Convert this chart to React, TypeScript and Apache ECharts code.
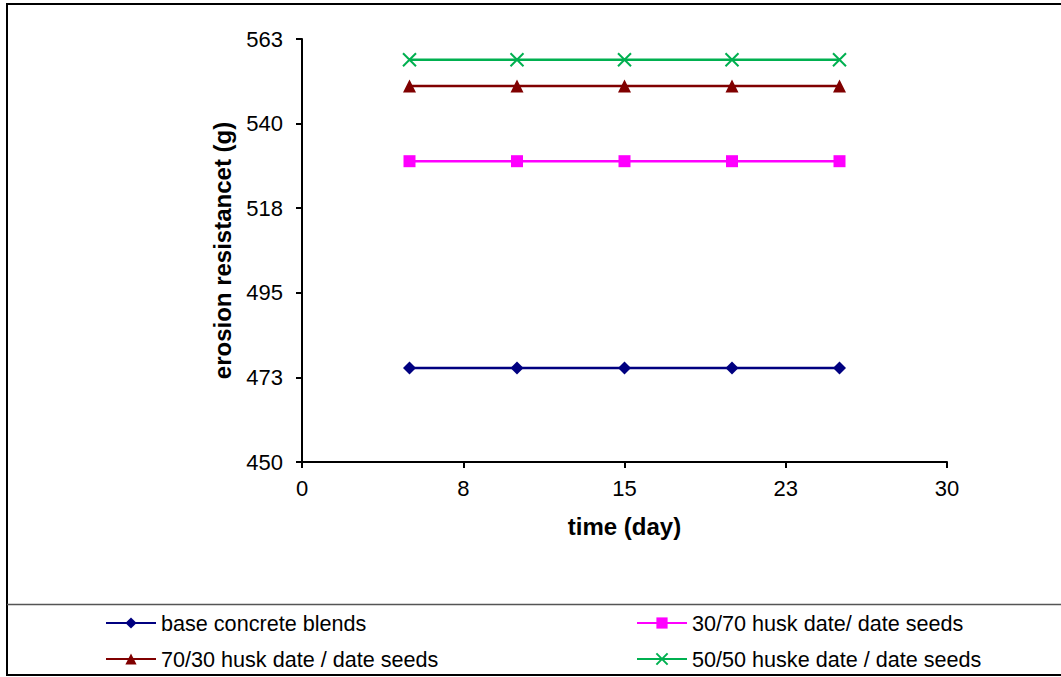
import React, { useEffect, useRef } from "react";
import * as echarts from "echarts";

const days = [5, 10, 15, 20, 25];
const baseConcrete = [475, 475, 475, 475, 475];
const husk30_70 = [530, 530, 530, 530, 530];
const husk70_30 = [550, 550, 550, 550, 550];
const husk50_50 = [557, 557, 557, 557, 557];

const seriesNames = [
  "base concrete blends",
  "30/70 husk date/ date seeds",
  "70/30 husk date / date seeds",
  "50/50 huske date / date seeds",
];

const FONT = "Liberation Sans, Arial, sans-serif";
const crossPath = "path://M0,0L10,10M10,0L0,10";

export default function App() {
  const ref = useRef<HTMLDivElement>(null);
  useEffect(() => {
    if (!ref.current) return;
    const chart = echarts.init(ref.current, null, { renderer: "svg" });
    const mk = (vals: number[]) => days.map((d, i) => [d, vals[i]]);
    const legendBase = {
      itemWidth: 50,
      itemHeight: 14,
      itemGap: 6,
      padding: 0,
      textStyle: { fontFamily: FONT, fontSize: 21.6, color: "#000" },
      selectedMode: false,
    };
    chart.setOption({
      animation: false,
      backgroundColor: "#fff",
      textStyle: { fontFamily: FONT },
      grid: { left: 302, top: 39, width: 645, height: 423, containLabel: false },
      xAxis: {
        type: "value",
        min: 0,
        max: 30,
        interval: 7.5,
        name: "time (day)",
        nameLocation: "middle",
        nameGap: 52,
        nameTextStyle: { fontFamily: FONT, fontSize: 24, fontWeight: "bold", color: "#000" },
        axisLine: { show: true, lineStyle: { color: "#000", width: 2 } },
        axisTick: { show: true, inside: false, length: 6, lineStyle: { color: "#000", width: 2 } },
        axisLabel: {
          fontFamily: FONT,
          fontSize: 22,
          color: "#000",
          margin: 15,
          formatter: (v: number) => String(Math.round(v)),
        },
        splitLine: { show: false },
      },
      yAxis: {
        type: "value",
        min: 450,
        max: 562.5,
        interval: 22.5,
        name: "erosion resistancet (g)",
        nameLocation: "middle",
        nameGap: 68,
        nameTextStyle: { fontFamily: FONT, fontSize: 24, fontWeight: "bold", color: "#000" },
        axisLine: { show: true, lineStyle: { color: "#000", width: 2 } },
        axisTick: { show: true, inside: false, length: 6, lineStyle: { color: "#000", width: 2 } },
        axisLabel: {
          fontFamily: FONT,
          fontSize: 22,
          color: "#000",
          margin: 19,
          formatter: (v: number) => String(Math.round(v)),
        },
        splitLine: { show: false },
      },
      legend: [
        { ...legendBase, data: [seriesNames[0]], left: 105, top: 612 },
        { ...legendBase, data: [seriesNames[1]], left: 636, top: 612 },
        { ...legendBase, data: [seriesNames[2]], left: 105, top: 648 },
        { ...legendBase, data: [seriesNames[3]], left: 636, top: 648 },
      ],
      graphic: [
        {
          type: "rect",
          shape: { x: 7, y: 4, width: 1060, height: 671 },
          style: { fill: "none", stroke: "#000", lineWidth: 2 },
          silent: true,
        },
        {
          type: "line",
          shape: { x1: 7, y1: 604.5, x2: 1061, y2: 604.5 },
          style: { stroke: "#555", lineWidth: 1.5 },
          silent: true,
        },
      ],
      series: [
        {
          name: seriesNames[0],
          type: "line",
          data: mk(baseConcrete),
          symbol: "diamond",
          symbolSize: 13,
          lineStyle: { color: "#000080", width: 2.5 },
          itemStyle: { color: "#000080" },
        },
        {
          name: seriesNames[1],
          type: "line",
          data: mk(husk30_70),
          symbol: "rect",
          symbolSize: 12,
          lineStyle: { color: "#ff00ff", width: 2.5 },
          itemStyle: { color: "#ff00ff" },
        },
        {
          name: seriesNames[2],
          type: "line",
          data: mk(husk70_30),
          symbol: "triangle",
          symbolSize: 13,
          lineStyle: { color: "#800000", width: 2.5 },
          itemStyle: { color: "#800000" },
        },
        {
          name: seriesNames[3],
          type: "line",
          data: mk(husk50_50),
          symbol: crossPath,
          symbolSize: 13,
          lineStyle: { color: "#00b050", width: 2.5 },
          itemStyle: { color: "#00b050", borderColor: "#00b050", borderWidth: 2 },
        },
      ],
    });
    return () => chart.dispose();
  }, []);
  return (
    <div
      ref={ref}
      style={{ position: "fixed", left: 0, top: 0, width: 1061, height: 677 }}
    />
  );
}
